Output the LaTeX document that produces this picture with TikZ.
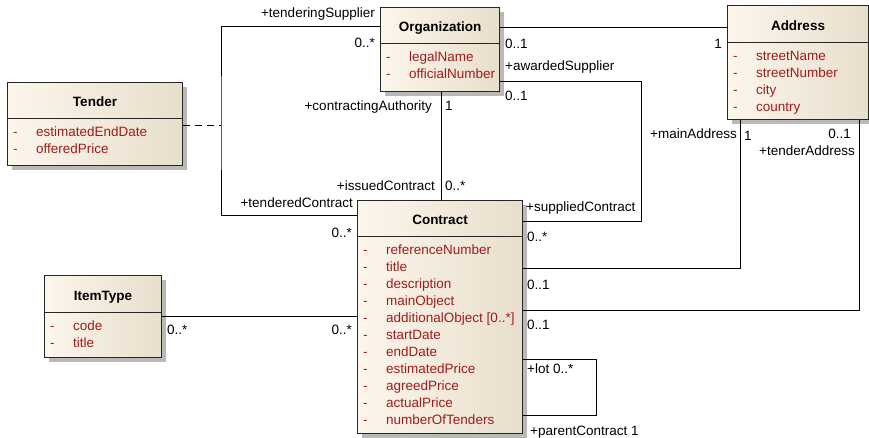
\documentclass[tikz,border=0pt]{standalone}
\usepackage{fontspec}
\setmainfont{Liberation Sans}
\usetikzlibrary{shadows}

\definecolor{boxleft}{RGB}{252,246,235}
\definecolor{boxright}{RGB}{232,222,204}
\definecolor{attrred}{RGB}{160,28,28}
\definecolor{shadowgray}{RGB}{185,185,185}

\tikzset{
  classbox/.style = {draw=black!85, line width=1pt, left color=boxleft, right color=boxright,
    anchor=north west, inner sep=0pt,
    drop shadow={shadow xshift=4pt, shadow yshift=-4pt, fill=shadowgray, opacity=1}},
  classname/.style = {font=\fontsize{13.5}{16}\selectfont\bfseries, inner sep=0pt,
    text height=11pt, text depth=2pt},
  attr/.style = {font=\fontsize{13.5}{16}\selectfont, text=attrred, anchor=west, inner sep=0pt,
    text height=11pt, text depth=2pt},
  role/.style = {font=\fontsize{13.5}{16}\selectfont, inner sep=0pt, text height=11pt, text depth=2pt},
  assoc/.style = {draw=black, line width=0.9pt},
}

% name, position, width, height, header height, title, attributes
\newcommand{\umlclass}[7]{%
  \node[classbox, minimum width=#3, minimum height=#4] (#1) at #2 {};
  \draw[line width=1pt, draw=black!85] ([yshift=-#5]#1.north west) -- ([yshift=-#5]#1.north east);
  \node[classname] (#1-name) at ([yshift=-#5/2-2pt]#1.north) {#6};
  \foreach \a [count=\i] in {#7}
    \node[attr] (#1-a\i) at ([xshift=6pt, yshift=-#5-14pt-17pt*(\i-1)]#1.north west)
      {\makebox[23pt][l]{-}\a};
}

\begin{document}
\begin{tikzpicture}[x=1pt, y=-1pt]
  \useasboundingbox (0,0) rectangle (869,437);

  % Klassen
  \umlclass{tender}{(7,82)}{175pt}{83pt}{36pt}{Tender}{estimatedEndDate, offeredPrice}
  \umlclass{org}{(380,7)}{119pt}{84pt}{36pt}{Organization}{legalName, officialNumber}
  \umlclass{addr}{(727,5)}{141pt}{114pt}{37pt}{Address}{streetName, streetNumber, city, country}
  \umlclass{con}{(357,200)}{165pt}{233pt}{36pt}{Contract}{referenceNumber, title, description,
    mainObject, {additionalObject [0..*]}, startDate, endDate, estimatedPrice, agreedPrice,
    actualPrice, numberOfTenders}
  \umlclass{item}{(44,275)}{117pt}{82pt}{37pt}{ItemType}{code, title}

  % Organization - Contract (tendering)
  \coordinate (tj) at (221,125);
  \draw[assoc] ([yshift=-19pt]org.north west) -| (tj) |- ([yshift=-15pt]con.north west);
  \draw[assoc, dash pattern=on 7pt off 5pt] (tender.east |- tj) -- (tj);
  \node[role, anchor=east] (rTS) at (375,13) {+tenderingSupplier};
  \node[role, anchor=east] (mTS) at (375,43) {0..*};
  \node[role, anchor=east] (rTC) at (353,203) {+tenderedContract};
  \node[role, anchor=east] (mTC) at (352,233) {0..*};

  % Organization - Contract (issued)
  \draw[assoc] ([xshift=1.5pt]org.south) -- ([xshift=1.5pt]org.south |- con.north);
  \node[role, anchor=east] (rCA) at (432,106) {+contractingAuthority};
  \node[role, anchor=west] (mCA) at (445,106) {1};
  \node[role, anchor=east] (rIC) at (435,186) {+issuedContract};
  \node[role, anchor=west] (mIC) at (445,186) {0..*};

  % Organization - Address
  \draw[assoc] ([yshift=-20pt]org.north east) coordinate (oa) -- (oa -| addr.west);
  \node[role, anchor=west] (mOA) at (505,44) {0..1};
  \node[role, anchor=east] (mAO) at (722,44) {1};

  % Organization - Contract (supplied)
  \draw[assoc] ([yshift=-74pt]org.north east) -| (641,150) |- ([yshift=-21pt]con.north east);
  \node[role, anchor=west] (rAS) at (505,66) {+awardedSupplier};
  \node[role, anchor=west] (mAS) at (505,96) {0..1};
  \node[role, anchor=west] (rSC) at (526,207) {+suppliedContract};
  \node[role, anchor=west] (mSC) at (527,237) {0..*};

  % Address - Contract
  \draw[assoc] ([xshift=13pt]addr.south west) |- ([yshift=-68pt]con.north east);
  \node[role, anchor=east] (rMA) at (737,134) {+mainAddress};
  \node[role, anchor=west] (mMA) at (744,136) {1};
  \node[role, anchor=west] (mMC) at (527,285) {0..1};
  \draw[assoc] ([xshift=-10pt]addr.south east) |- ([yshift=-110pt]con.north east);
  \node[role, anchor=east] (mTA) at (851,134) {0..1};
  \node[role, anchor=east] (rTA) at (855,151) {+tenderAddress};
  \node[role, anchor=west] (mTC2) at (527,325) {0..1};

  % ItemType - Contract
  \draw[assoc] (item.east) -- (item.east -| con.west);
  \node[role, anchor=west] (mIT) at (167,330) {0..*};
  \node[role, anchor=east] (mITc) at (352,330) {0..*};

  % Contract - Contract (lot)
  \draw[assoc] ([yshift=-159pt]con.north east) -| (596,390) |- ([yshift=-215pt]con.north east);
  \node[role, anchor=west] (rLot) at (527,369) {+lot 0..*};
  \node[role, anchor=west] (rPC) at (530,431) {+parentContract 1};
\end{tikzpicture}
\end{document}
